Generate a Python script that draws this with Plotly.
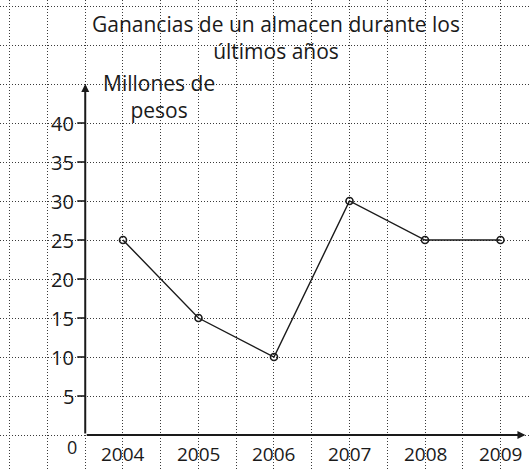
import plotly.graph_objects as go

# Ganancias anuales (millones de pesos)
years = [2004, 2005, 2006, 2007, 2008, 2009]
profits = [25, 15, 10, 30, 25, 25]
y_ticks = [5, 10, 15, 20, 25, 30, 35, 40]
title_lines = ["Ganancias de un almacen durante los", "últimos años"]
y_title_lines = ["Millones de", "pesos"]

FONT = "Open Sans"
INK = "#1a1a1a"
W, H = 531, 471
AXIS_X = 2003.5          # position of the vertical axis
X_RANGE = [2002.371, 2009.404]
Y_RANGE = [-4.615, 55.77]

fig = go.Figure()

fig.add_trace(go.Scatter(
    x=years, y=profits, mode="lines+markers",
    line=dict(color=INK, width=1.4),
    marker=dict(symbol="circle-open", size=7, color=INK, line=dict(width=1.6)),
    hoverinfo="skip", showlegend=False,
))

grid = dict(showgrid=True, gridcolor="#3a3a3a", gridwidth=1, griddash="1px,2px",
            zeroline=False, showline=False, showticklabels=False, ticks="",
            fixedrange=True)

fig.update_xaxes(range=X_RANGE, tick0=2003.5, dtick=0.5, **grid)
fig.update_yaxes(range=Y_RANGE, tick0=0, dtick=5, **grid)

annotations = []

# axes drawn as arrows
annotations.append(dict(x=AXIS_X, y=45, ax=AXIS_X, ay=0, xref="x", yref="y",
                        axref="x", ayref="y", text="", showarrow=True,
                        arrowhead=2, arrowsize=0.8, arrowwidth=2, arrowcolor=INK))
annotations.append(dict(x=2009.33, y=0, ax=AXIS_X, ay=0, xref="x", yref="y",
                        axref="x", ayref="y", text="", showarrow=True,
                        arrowhead=2, arrowsize=0.8, arrowwidth=2, arrowcolor=INK))

# y tick labels
for v in y_ticks:
    annotations.append(dict(x=AXIS_X, y=v, xref="x", yref="y", text=str(v),
                            showarrow=False, xanchor="right", xshift=-9, yshift=0,
                            font=dict(family=FONT, size=20, color=INK)))
annotations.append(dict(x=AXIS_X, y=0, xref="x", yref="y", text="0",
                        showarrow=False, xanchor="right", xshift=-6, yshift=-12,
                        font=dict(family=FONT, size=18, color=INK)))

# x tick labels
for yr in years:
    annotations.append(dict(x=yr, y=0, xref="x", yref="y", text=str(yr),
                            showarrow=False, yanchor="top", yshift=-4,
                            font=dict(family=FONT, size=19, color=INK)))

# text blocks placed in pixels, converted to paper fractions
def paper_text(lines, px, py, size):
    return dict(x=px / W, y=1 - py / H, xref="paper", yref="paper",
                text="<br>".join(lines), showarrow=False, align="center",
                xanchor="center", yanchor="middle",
                font=dict(family=FONT, size=size, color=INK))

annotations.append(paper_text(y_title_lines, 159, 97, 21))
annotations.append(paper_text(title_lines, 276, 38, 21))

# short tick marks on the vertical axis
shapes = []
for v in y_ticks:
    shapes.append(dict(type="line", xref="x", yref="y", xsizemode="pixel",
                       xanchor=AXIS_X, x0=-8, x1=0, y0=v, y1=v,
                       line=dict(color=INK, width=1.6)))

fig.update_layout(
    width=W, height=H,
    margin=dict(l=0, r=0, t=0, b=0),
    paper_bgcolor="white", plot_bgcolor="white",
    annotations=annotations, shapes=shapes,
    showlegend=False,
)

fig.write_html("out.html", config={"displayModeBar": False})
